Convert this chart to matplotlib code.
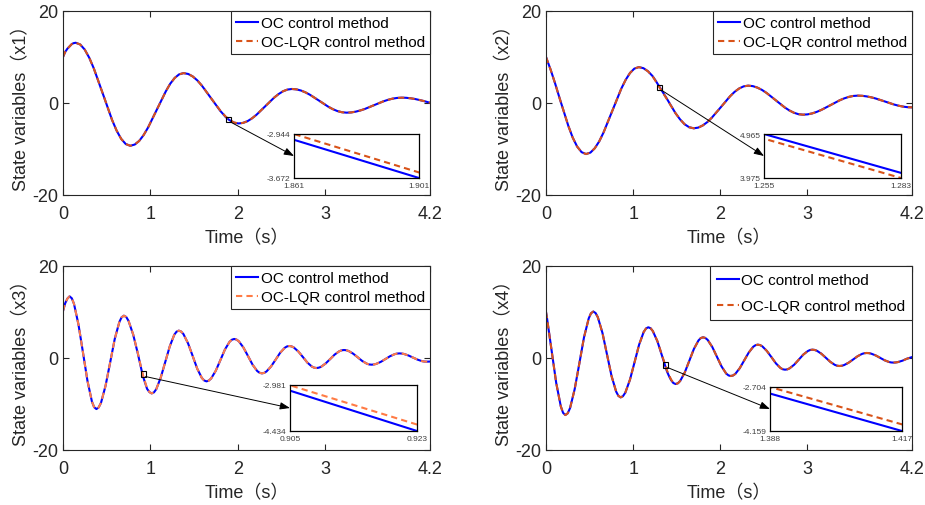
import matplotlib
matplotlib.use('Agg')
import matplotlib.pyplot as plt
from matplotlib.patches import Rectangle

# ---------------- data: (time s, value) ----------------
x1_oc = [(0.0, 10.0), (0.025, 11.1), (0.05, 11.8), (0.10, 12.8), (0.12, 13.0),
         (0.145, 13.1), (0.197, 12.72), (0.249, 11.6), (0.301, 9.82), (0.353, 7.5),
         (0.458, 1.9), (0.562, -3.7), (0.614, -6.02), (0.666, -7.8), (0.718, -8.92),
         (0.77, -9.3), (0.821, -9.03), (0.872, -8.24), (0.922, -6.99), (0.973, -5.35),
         (1.075, -1.4), (1.177, 2.55), (1.227, 4.19), (1.278, 5.44), (1.329, 6.23),
         (1.38, 6.5), (1.433, 6.31), (1.485, 5.77), (1.538, 4.9), (1.59, 3.76),
         (1.695, 1.03), (1.80, -1.71), (1.853, -2.85), (1.861, -3.04), (1.901, -3.672),
         (1.955, -4.27), (2.01, -4.45), (2.061, -4.32), (2.112, -3.95), (2.162, -3.35),
         (2.213, -2.58), (2.315, -0.7), (2.417, 1.18), (2.468, 1.95), (2.518, 2.55),
         (2.569, 2.92), (2.62, 3.05), (2.672, 2.96), (2.724, 2.71), (2.776, 2.3),
         (2.828, 1.77), (2.933, 0.48), (3.037, -0.82), (3.089, -1.35), (3.141, -1.76),
         (3.193, -2.01), (3.245, -2.1), (3.298, -2.05), (3.35, -1.88), (3.403, -1.62),
         (3.455, -1.29), (3.56, -0.47), (3.665, 0.35), (3.718, 0.68), (3.77, 0.94),
         (3.823, 1.1), (3.875, 1.16), (3.927, 1.13), (3.98, 1.02), (4.031, 0.86),
         (4.08, 0.65), (4.135, 0.4), (4.2, 0.05)]
x1_lqr = [(0.0, 10.0), (0.025, 11.1), (0.05, 11.8), (0.10, 12.8), (0.12, 13.0),
          (0.145, 13.1), (0.197, 12.72), (0.249, 11.6), (0.301, 9.82), (0.353, 7.5),
          (0.458, 1.9), (0.562, -3.7), (0.614, -6.02), (0.666, -7.8), (0.718, -8.92),
          (0.77, -9.3), (0.821, -9.03), (0.872, -8.24), (0.922, -6.99), (0.973, -5.35),
          (1.075, -1.4), (1.177, 2.55), (1.227, 4.19), (1.278, 5.44), (1.329, 6.23),
          (1.38, 6.5), (1.433, 6.31), (1.485, 5.77), (1.538, 4.9), (1.59, 3.76),
          (1.695, 1.03), (1.80, -1.65), (1.853, -2.78), (1.861, -2.944), (1.901, -3.58),
          (1.955, -4.22), (2.01, -4.45), (2.061, -4.32), (2.112, -3.95), (2.162, -3.35),
          (2.213, -2.58), (2.315, -0.7), (2.417, 1.18), (2.468, 1.95), (2.518, 2.55),
          (2.569, 2.92), (2.62, 3.05), (2.672, 2.96), (2.724, 2.71), (2.776, 2.3),
          (2.828, 1.77), (2.933, 0.48), (3.037, -0.82), (3.089, -1.35), (3.141, -1.76),
          (3.193, -2.01), (3.245, -2.1), (3.298, -2.05), (3.35, -1.88), (3.403, -1.62),
          (3.455, -1.29), (3.56, -0.47), (3.665, 0.35), (3.718, 0.68), (3.77, 0.94),
          (3.823, 1.1), (3.875, 1.16), (3.927, 1.13), (3.98, 1.02), (4.031, 0.86),
          (4.08, 0.65), (4.135, 0.4), (4.2, 0.05)]

x2_oc = [(0.0, 10.0), (0.052, 7.3), (0.103, 4.35), (0.154, 1.17), (0.256, -4.96),
         (0.306, -7.5), (0.357, -9.46), (0.408, -10.68), (0.459, -11.1), (0.51, -10.78),
         (0.56, -9.83), (0.611, -8.33), (0.661, -6.38), (0.762, -1.65), (0.863, 3.08),
         (0.914, 5.03), (0.964, 6.53), (1.014, 7.48), (1.065, 7.8), (1.118, 7.57),
         (1.17, 6.91), (1.223, 5.85), (1.255, 4.965), (1.283, 4.09), (1.38, 1.15),
         (1.485, -2.18), (1.538, -3.55), (1.59, -4.61), (1.643, -5.27), (1.695, -5.5),
         (1.747, -5.35), (1.799, -4.88), (1.851, -4.15), (1.903, -3.19), (2.008, -0.87),
         (2.112, 1.46), (2.164, 2.42), (2.216, 3.15), (2.268, 3.62), (2.32, 3.77),
         (2.373, 3.67), (2.425, 3.35), (2.478, 2.85), (2.53, 2.2), (2.635, 0.62),
         (2.74, -0.97), (2.793, -1.62), (2.845, -2.12), (2.898, -2.44), (2.95, -2.54),
         (3.002, -2.47), (3.055, -2.26), (3.107, -1.93), (3.159, -1.51), (3.264, -0.47),
         (3.368, 0.57), (3.42, 0.99), (3.473, 1.32), (3.525, 1.53), (3.577, 1.6),
         (3.629, 1.56), (3.681, 1.43), (3.733, 1.23), (3.785, 0.97), (3.889, 0.33),
         (3.992, -0.32), (4.044, -0.58), (4.096, -0.78), (4.148, -0.91), (4.2, -0.95)]
x2_lqr = [(0.0, 10.0), (0.052, 7.3), (0.103, 4.35), (0.154, 1.17), (0.256, -4.96),
          (0.306, -7.5), (0.357, -9.46), (0.408, -10.68), (0.459, -11.1), (0.51, -10.78),
          (0.56, -9.83), (0.611, -8.33), (0.661, -6.38), (0.762, -1.65), (0.863, 3.08),
          (0.914, 5.03), (0.964, 6.53), (1.014, 7.48), (1.065, 7.8), (1.118, 7.57),
          (1.17, 6.88), (1.223, 5.8), (1.255, 4.86), (1.283, 3.975), (1.38, 1.08),
          (1.485, -2.18), (1.538, -3.55), (1.59, -4.61), (1.643, -5.27), (1.695, -5.5),
          (1.747, -5.35), (1.799, -4.88), (1.851, -4.15), (1.903, -3.19), (2.008, -0.87),
          (2.112, 1.46), (2.164, 2.42), (2.216, 3.15), (2.268, 3.62), (2.32, 3.77),
          (2.373, 3.67), (2.425, 3.35), (2.478, 2.85), (2.53, 2.2), (2.635, 0.62),
          (2.74, -0.97), (2.793, -1.62), (2.845, -2.12), (2.898, -2.44), (2.95, -2.54),
          (3.002, -2.47), (3.055, -2.26), (3.107, -1.93), (3.159, -1.51), (3.264, -0.47),
          (3.368, 0.57), (3.42, 0.99), (3.473, 1.32), (3.525, 1.53), (3.577, 1.6),
          (3.629, 1.56), (3.681, 1.43), (3.733, 1.23), (3.785, 0.97), (3.889, 0.33),
          (3.992, -0.32), (4.044, -0.58), (4.096, -0.78), (4.148, -0.91), (4.2, -0.95)]

x3_oc = [(0.0, 10.2), (0.025, 11.9), (0.05, 12.9), (0.075, 13.4), (0.101, 12.98),
         (0.126, 11.76), (0.177, 7.28), (0.229, 1.15), (0.28, -4.98), (0.331, -9.46),
         (0.356, -10.68), (0.382, -11.1), (0.408, -10.75), (0.435, -9.74), (0.487, -6.03),
         (0.54, -0.95), (0.592, 4.13), (0.645, 7.84), (0.671, 8.85), (0.697, 9.2),
         (0.724, 8.91), (0.75, 8.07), (0.803, 5.1), (0.856, 1.0), (0.905, -3.16),
         (0.923, -4.434), (0.962, -6.7), (0.989, -7.41), (1.015, -7.7), (1.041, -7.47),
         (1.067, -6.79), (1.118, -4.29), (1.17, -0.88), (1.222, 2.54), (1.273, 5.04),
         (1.299, 5.72), (1.325, 5.95), (1.351, 5.76), (1.378, 5.21), (1.431, 3.19),
         (1.484, 0.44), (1.536, -2.32), (1.589, -4.34), (1.616, -4.89), (1.642, -5.08),
         (1.668, -4.92), (1.695, -4.46), (1.748, -2.78), (1.801, -0.47), (1.853, 1.84),
         (1.906, 3.52), (1.933, 3.98), (1.959, 4.14), (1.985, 4.01), (2.012, 3.64),
         (2.065, 2.27), (2.118, 0.4), (2.17, -1.47), (2.223, -2.84), (2.25, -3.21),
         (2.276, -3.34), (2.302, -3.24), (2.328, -2.94), (2.38, -1.86), (2.433, -0.37),
         (2.485, 1.13), (2.537, 2.21), (2.563, 2.51), (2.589, 2.61), (2.615, 2.53),
         (2.641, 2.29), (2.693, 1.42), (2.745, 0.22), (2.796, -0.99), (2.848, -1.86),
         (2.874, -2.1), (2.90, -2.18), (2.926, -2.11), (2.953, -1.92), (3.005, -1.2),
         (3.058, -0.22), (3.11, 0.76), (3.163, 1.48), (3.189, 1.67), (3.215, 1.74),
         (3.241, 1.69), (3.268, 1.53), (3.32, 0.95), (3.373, 0.15), (3.425, -0.66),
         (3.478, -1.24), (3.504, -1.4), (3.53, -1.45), (3.557, -1.41), (3.583, -1.29),
         (3.637, -0.84), (3.69, -0.23), (3.743, 0.39), (3.797, 0.84), (3.823, 0.96),
         (3.85, 1.0), (3.876, 0.97), (3.902, 0.88), (3.953, 0.55), (4.005, 0.1),
         (4.057, -0.35), (4.108, -0.68), (4.134, -0.77), (4.16, -0.8), (4.2, -0.77)]
x3_lqr = [(0.0, 10.2), (0.025, 11.9), (0.05, 12.9), (0.075, 13.4), (0.101, 12.98),
          (0.126, 11.76), (0.177, 7.28), (0.229, 1.15), (0.28, -4.98), (0.331, -9.46),
          (0.356, -10.68), (0.382, -11.1), (0.408, -10.75), (0.435, -9.74), (0.487, -6.03),
          (0.54, -0.95), (0.592, 4.13), (0.645, 7.84), (0.671, 8.85), (0.697, 9.2),
          (0.724, 8.91), (0.75, 8.07), (0.803, 5.15), (0.856, 1.1), (0.905, -2.99),
          (0.923, -4.23), (0.962, -6.6), (0.989, -7.39), (1.015, -7.7), (1.041, -7.47),
          (1.067, -6.79), (1.118, -4.29), (1.17, -0.88), (1.222, 2.54), (1.273, 5.04),
          (1.299, 5.72), (1.325, 5.95), (1.351, 5.76), (1.378, 5.21), (1.431, 3.19),
          (1.484, 0.44), (1.536, -2.32), (1.589, -4.34), (1.616, -4.89), (1.642, -5.08),
          (1.668, -4.92), (1.695, -4.46), (1.748, -2.78), (1.801, -0.47), (1.853, 1.84),
          (1.906, 3.52), (1.933, 3.98), (1.959, 4.14), (1.985, 4.01), (2.012, 3.64),
          (2.065, 2.27), (2.118, 0.4), (2.17, -1.47), (2.223, -2.84), (2.25, -3.21),
          (2.276, -3.34), (2.302, -3.24), (2.328, -2.94), (2.38, -1.86), (2.433, -0.37),
          (2.485, 1.13), (2.537, 2.21), (2.563, 2.51), (2.589, 2.61), (2.615, 2.53),
          (2.641, 2.29), (2.693, 1.42), (2.745, 0.22), (2.796, -0.99), (2.848, -1.86),
          (2.874, -2.1), (2.90, -2.18), (2.926, -2.11), (2.953, -1.92), (3.005, -1.2),
          (3.058, -0.22), (3.11, 0.76), (3.163, 1.48), (3.189, 1.67), (3.215, 1.74),
          (3.241, 1.69), (3.268, 1.53), (3.32, 0.95), (3.373, 0.15), (3.425, -0.66),
          (3.478, -1.24), (3.504, -1.4), (3.53, -1.45), (3.557, -1.41), (3.583, -1.29),
          (3.637, -0.84), (3.69, -0.23), (3.743, 0.39), (3.797, 0.84), (3.823, 0.96),
          (3.85, 1.0), (3.876, 0.97), (3.902, 0.88), (3.953, 0.55), (4.005, 0.1),
          (4.057, -0.35), (4.108, -0.68), (4.134, -0.77), (4.16, -0.8), (4.2, -0.77)]

x4_oc = [(0.0, 10.0), (0.012, 8.6), (0.0645, 1.6), (0.117, -5.4), (0.17, -10.52),
         (0.196, -11.92), (0.222, -12.4), (0.249, -12.02), (0.276, -10.89), (0.329, -6.78),
         (0.383, -1.15), (0.436, 4.48), (0.49, 8.59), (0.516, 9.72), (0.543, 10.1),
         (0.569, 9.78), (0.595, 8.85), (0.648, 5.44), (0.70, 0.77), (0.752, -3.9),
         (0.805, -7.31), (0.831, -8.24), (0.857, -8.56), (0.883, -8.3), (0.91, -7.54),
         (0.963, -4.75), (1.016, -0.94), (1.068, 2.87), (1.121, 5.66), (1.148, 6.42),
         (1.174, 6.68), (1.2, 6.47), (1.226, 5.85), (1.279, 3.6), (1.331, 0.51),
         (1.388, -2.92), (1.417, -4.159), (1.436, -4.83), (1.462, -5.45), (1.488, -5.66),
         (1.514, -5.49), (1.54, -4.98), (1.593, -3.12), (1.645, -0.58), (1.697, 1.96),
         (1.75, 3.82), (1.776, 4.33), (1.802, 4.5), (1.828, 4.36), (1.855, 3.94),
         (1.908, 2.4), (1.961, 0.29), (2.014, -1.82), (2.067, -3.36), (2.094, -3.78),
         (2.12, -3.92), (2.146, -3.8), (2.172, -3.46), (2.223, -2.22), (2.275, -0.51),
         (2.327, 1.2), (2.378, 2.44), (2.404, 2.78), (2.43, 2.9), (2.456, 2.81),
         (2.482, 2.54), (2.534, 1.54), (2.587, 0.18), (2.639, -1.18), (2.691, -2.18),
         (2.717, -2.45), (2.743, -2.54), (2.769, -2.47), (2.795, -2.25), (2.848, -1.46),
         (2.90, -0.37), (2.952, 0.73), (3.005, 1.52), (3.031, 1.74), (3.057, 1.81),
         (3.083, 1.75), (3.109, 1.57), (3.16, 0.93), (3.212, 0.04), (3.264, -0.86),
         (3.315, -1.5), (3.341, -1.68), (3.367, -1.74), (3.393, -1.69), (3.419, -1.55),
         (3.471, -1.04), (3.524, -0.33), (3.576, 0.39), (3.628, 0.9), (3.654, 1.04),
         (3.68, 1.09), (3.706, 1.06), (3.731, 0.95), (3.782, 0.57), (3.833, 0.05),
         (3.884, -0.48), (3.935, -0.86), (3.96, -0.965), (3.986, -1.0), (4.012, -0.97),
         (4.038, -0.89), (4.091, -0.58), (4.143, -0.15), (4.2, 0.2)]
x4_lqr = [(0.0, 10.0), (0.012, 8.6), (0.0645, 1.6), (0.117, -5.4), (0.17, -10.52),
          (0.196, -11.92), (0.222, -12.4), (0.249, -12.02), (0.276, -10.89), (0.329, -6.78),
          (0.383, -1.15), (0.436, 4.48), (0.49, 8.59), (0.516, 9.72), (0.543, 10.1),
          (0.569, 9.78), (0.595, 8.85), (0.648, 5.44), (0.70, 0.77), (0.752, -3.9),
          (0.805, -7.31), (0.831, -8.24), (0.857, -8.56), (0.883, -8.3), (0.91, -7.54),
          (0.963, -4.75), (1.016, -0.94), (1.068, 2.87), (1.121, 5.66), (1.148, 6.42),
          (1.174, 6.68), (1.2, 6.47), (1.226, 5.85), (1.279, 3.65), (1.331, 0.6),
          (1.388, -2.704), (1.417, -3.94), (1.436, -4.7), (1.462, -5.42), (1.488, -5.66),
          (1.514, -5.49), (1.54, -4.98), (1.593, -3.12), (1.645, -0.58), (1.697, 1.96),
          (1.75, 3.82), (1.776, 4.33), (1.802, 4.5), (1.828, 4.36), (1.855, 3.94),
          (1.908, 2.4), (1.961, 0.29), (2.014, -1.82), (2.067, -3.36), (2.094, -3.78),
          (2.12, -3.92), (2.146, -3.8), (2.172, -3.46), (2.223, -2.22), (2.275, -0.51),
          (2.327, 1.2), (2.378, 2.44), (2.404, 2.78), (2.43, 2.9), (2.456, 2.81),
          (2.482, 2.54), (2.534, 1.54), (2.587, 0.18), (2.639, -1.18), (2.691, -2.18),
          (2.717, -2.45), (2.743, -2.54), (2.769, -2.47), (2.795, -2.25), (2.848, -1.46),
          (2.90, -0.37), (2.952, 0.73), (3.005, 1.52), (3.031, 1.74), (3.057, 1.81),
          (3.083, 1.75), (3.109, 1.57), (3.16, 0.93), (3.212, 0.04), (3.264, -0.86),
          (3.315, -1.5), (3.341, -1.68), (3.367, -1.74), (3.393, -1.69), (3.419, -1.55),
          (3.471, -1.04), (3.524, -0.33), (3.576, 0.39), (3.628, 0.9), (3.654, 1.04),
          (3.68, 1.09), (3.706, 1.06), (3.731, 0.95), (3.782, 0.57), (3.833, 0.05),
          (3.884, -0.48), (3.935, -0.86), (3.96, -0.965), (3.986, -1.0), (4.012, -0.97),
          (4.038, -0.89), (4.091, -0.58), (4.143, -0.15), (4.2, 0.2)]

y_labels = ['State variables（x1）', 'State variables（x2）',
            'State variables（x3）', 'State variables（x4）']
x_label = 'Time（s）'
legend_labels = ['OC control method', 'OC-LQR control method']
x_ticks = [0, 1, 2, 3, 4.2]
x_tick_labels = ['0', '1', '2', '3', '4.2']
y_ticks = [-20, 0, 20]

# zoom windows (inset limits)
zoom_x = [(1.861, 1.901), (1.255, 1.283), (0.905, 0.923), (1.388, 1.417)]
zoom_y = [(-3.672, -2.944), (3.975, 4.965), (-4.434, -2.981), (-4.159, -2.704)]
# centre of the little marker box drawn on each main curve
marker_box = [(1.89, -3.6), (1.30, 3.3), (0.916, -3.48), (1.366, -1.52)]

# ---------------- styling / layout ----------------
plt.rcParams['font.family'] = ['Liberation Sans', 'Noto Sans CJK SC']
plt.rcParams['axes.unicode_minus'] = False

TXT = '#262626'
BLUE = '#0000FF'
orange = ['#D95319', '#D95319', '#FF7B45', '#D95319']

W, H = 925, 506
def frac(x0, y0, x1, y1):
    return [x0 / W, 1 - y1 / H, (x1 - x0) / W, (y1 - y0) / H]

main_pos = [frac(63, 12, 430, 196), frac(546, 12, 912, 196),
            frac(63, 267, 430, 451), frac(546, 267, 912, 451)]
inset_pos = [frac(294, 135, 419, 179), frac(764, 135, 901, 179),
             frac(290, 386, 417, 432), frac(770, 388, 902, 432)]
leg_spacing = [0.3, 0.3, 0.3, 0.8]
leg_pad = [0.35, 0.35, 0.35, 0.45]

series = [(x1_oc, x1_lqr), (x2_oc, x2_lqr), (x3_oc, x3_lqr), (x4_oc, x4_lqr)]

fig = plt.figure(figsize=(9.25, 5.06), dpi=100)

for i, (oc, lqr) in enumerate(series):
    t_oc, v_oc = zip(*oc)
    t_lqr, v_lqr = zip(*lqr)
    ax = fig.add_axes(main_pos[i])
    ax.plot(t_oc, v_oc, color=BLUE, lw=1.5, label=legend_labels[0])
    ax.plot(t_lqr, v_lqr, color=orange[i], lw=1.5, ls=(0, (3, 2)), label=legend_labels[1])
    ax.set_xlim(0, 4.2)
    ax.set_ylim(-20, 20)
    ax.set_xticks(x_ticks)
    ax.set_xticklabels(x_tick_labels)
    ax.set_yticks(y_ticks)
    ax.tick_params(direction='in', top=True, right=True, length=4, width=0.8,
                   labelsize=13, color=TXT, labelcolor=TXT)
    ax.tick_params(axis='x', pad=7)
    for s in ax.spines.values():
        s.set_color(TXT)
        s.set_linewidth(0.8)
    ax.set_xlabel(x_label, fontsize=13, color=TXT, labelpad=5)
    ax.set_ylabel(y_labels[i], fontsize=13, color=TXT, labelpad=1)
    leg = ax.legend(loc='upper right', fontsize=11, frameon=True, fancybox=False,
                    edgecolor=TXT, framealpha=1, borderaxespad=0,
                    borderpad=leg_pad[i], labelspacing=leg_spacing[i],
                    handlelength=1.45, handletextpad=0.15)
    leg.get_frame().set_linewidth(0.8)
    for txt in leg.get_texts():
        txt.set_color('black')

    # marker box
    bw, bh = 0.057, 1.1
    cx, cy = marker_box[i]
    ax.add_patch(Rectangle((cx - bw / 2, cy - bh / 2), bw, bh, fill=False,
                           ec='black', lw=0.8, zorder=5))

    # inset
    axi = fig.add_axes(inset_pos[i])
    axi.plot(t_oc, v_oc, color=BLUE, lw=1.5)
    axi.plot(t_lqr, v_lqr, color=orange[i], lw=1.5, ls=(0, (3, 2)))
    axi.set_xlim(*zoom_x[i])
    axi.set_ylim(*zoom_y[i])
    axi.set_xticks(list(zoom_x[i]))
    axi.set_xticklabels(['%.3f' % v for v in zoom_x[i]])
    axi.set_yticks(list(zoom_y[i]))
    axi.set_yticklabels(['%.3f' % v for v in zoom_y[i]])
    axi.tick_params(direction='in', length=2, width=0.6, labelsize=6, pad=2.5,
                    color=TXT, labelcolor='#404040')
    axi.tick_params(axis='x', pad=3)
    for s in axi.spines.values():
        s.set_color('black')
        s.set_linewidth(0.9)

    ax.annotate('', xy=(0, 0.5), xycoords=axi.transAxes,
                xytext=(cx + bw / 2, cy - bh / 2), textcoords='data',
                arrowprops=dict(arrowstyle='-|>,head_length=0.6,head_width=0.22',
                                color='black', lw=0.7, shrinkA=0, shrinkB=0),
                annotation_clip=False)

fig.savefig('out.png', dpi=100)
